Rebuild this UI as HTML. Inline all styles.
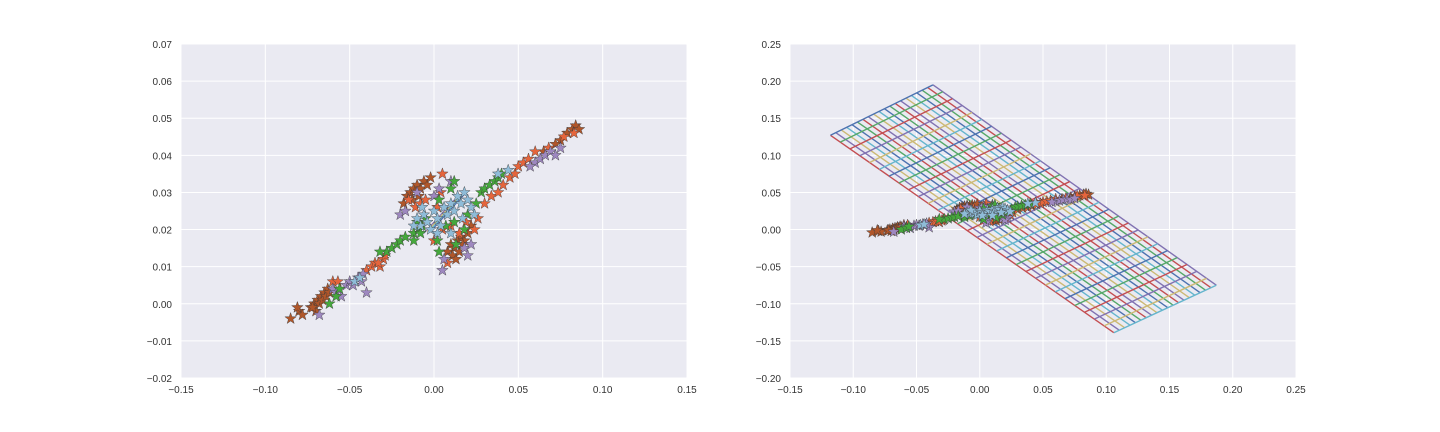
<!DOCTYPE html>
<html><head><meta charset="utf-8"><style>
body{margin:0;background:#fff;}
svg{display:block;font-family:"Liberation Sans",sans-serif;}
</style></head><body>
<svg id="fig" width="1440" height="432" xmlns="http://www.w3.org/2000/svg"></svg>
<script>
// ---- data ----
const xTicksL=[-0.15,-0.10,-0.05,0.00,0.05,0.10,0.15];
const yTicksL=[-0.02,-0.01,0.00,0.01,0.02,0.03,0.04,0.05,0.06,0.07];
const xTicksR=[-0.15,-0.10,-0.05,0.00,0.05,0.10,0.15,0.20,0.25];
const yTicksR=[-0.20,-0.15,-0.10,-0.05,0.00,0.05,0.10,0.15,0.20,0.25];
const brownPts=[[-0.085,-0.004],[-0.080,-0.002],[-0.078,-0.003],[-0.081,-0.001],[-0.073,-0.001],[-0.071,0.000],[-0.070,-0.002],[-0.069,0.001],[-0.068,0.000],[-0.067,0.002],[-0.066,0.001],[-0.065,0.003],[-0.064,0.002],[-0.063,0.004],[-0.062,0.003],[-0.072,-0.001],
[-0.018,0.027],[-0.016,0.029],[-0.014,0.030],[-0.012,0.031],[-0.010,0.032],[-0.008,0.031],[-0.006,0.033],[-0.004,0.032],[-0.002,0.034],[-0.013,0.028],[-0.009,0.029],
[0.008,0.014],[0.010,0.016],[0.012,0.015],[0.014,0.017],[0.016,0.018],[0.018,0.017],[0.020,0.019],[0.011,0.013],[0.013,0.012],[0.015,0.014],[0.022,0.021],[0.017,0.016],
[0.082,0.047],[0.084,0.048],[0.086,0.047],[0.079,0.046],[0.075,0.044],[0.072,0.043],[0.065,0.041]];
const orangePts=[[-0.060,0.006],[-0.057,0.006],[-0.040,0.009],[-0.037,0.010],[-0.035,0.011],[-0.032,0.010],[-0.030,0.012],[-0.029,0.013],[0.000,0.017],[0.005,0.035],[-0.015,0.028],[-0.011,0.026],[-0.008,0.027],[-0.005,0.028],[0.002,0.026],[0.004,0.030],[0.010,0.021],[0.015,0.019],[0.019,0.022],[0.024,0.020],[0.026,0.023],[0.005,0.020],[0.008,0.011],[0.030,0.027],[0.034,0.029],[0.038,0.030],[0.041,0.032],[0.045,0.034],[0.048,0.035],[0.050,0.037],[0.053,0.038],[0.056,0.039],[0.060,0.041],[0.068,0.042],[0.077,0.045],[0.083,0.046],[-0.033,0.011]];
const purplePts=[[-0.068,-0.003],[-0.060,0.004],[-0.058,0.003],[-0.055,0.002],[-0.052,0.005],[-0.050,0.006],[-0.048,0.005],[-0.045,0.007],[-0.043,0.006],[-0.040,0.003],[-0.042,0.008],[-0.020,0.024],[-0.017,0.025],[-0.010,0.030],[0.000,0.029],[0.010,0.033],[0.006,0.012],[0.018,0.015],[0.022,0.016],[0.020,0.013],[0.005,0.009],[0.060,0.038],[0.063,0.039],[0.066,0.040],[0.069,0.041],[0.072,0.040],[0.075,0.042],[0.057,0.037],[0.003,0.031]];
const greenPts=[[-0.062,0.000],[-0.058,0.002],[-0.056,0.004],[-0.028,0.014],[-0.025,0.015],[-0.022,0.016],[-0.020,0.017],[-0.017,0.018],[-0.012,0.019],[-0.009,0.020],[-0.007,0.021],[-0.010,0.022],[-0.005,0.023],[0.003,0.028],[0.010,0.031],[0.012,0.033],[-0.008,0.019],[0.002,0.017],[0.007,0.021],[0.012,0.022],[0.018,0.020],[0.020,0.024],[0.025,0.027],[0.028,0.030],[0.030,0.031],[0.033,0.032],[0.036,0.033],[0.038,0.034],[0.040,0.035],[-0.032,0.014],[0.003,0.014],[-0.012,0.017],[0.013,0.016]];
const bluePts=[[-0.010,0.023],[-0.008,0.021],[-0.006,0.024],[-0.004,0.022],[-0.002,0.020],[0.000,0.025],[0.002,0.023],[0.004,0.021],[0.006,0.026],[0.008,0.024],[0.010,0.027],[0.012,0.025],[0.014,0.029],[0.016,0.027],[0.018,0.030],[0.020,0.028],[0.022,0.026],[0.024,0.024],[-0.007,0.026],[0.010,0.019],[0.002,0.019],[0.017,0.023],[-0.012,0.021],[-0.047,0.006],[-0.044,0.007],[0.044,0.036],[0.038,0.035]];
const planeCorners=[[-0.118,0.127],[-0.037,0.195],[0.187,-0.075],[0.106,-0.139]]; // A,B,C,D
const planeLongCount=20;
const planeCrossCount=30;

// ---- setup ----
const NS="http://www.w3.org/2000/svg";
const svg=document.getElementById('fig');
function mk(tag,attrs,parent){const e=document.createElementNS(NS,tag);for(const k in attrs)e.setAttribute(k,attrs[k]);(parent||svg).appendChild(e);return e;}
const palette=['#4C72B0','#55A868','#C44E52','#8172B2','#CCB974','#64B5CD'];
function starPath(cx,cy,r){let d='';for(let i=0;i<10;i++){const rr=i%2?r*0.4:r;const a=-Math.PI/2+i*Math.PI/5;d+=(i?'L':'M')+(cx+rr*Math.cos(a)).toFixed(1)+','+(cy+rr*Math.sin(a)).toFixed(1);}return d+'Z';}

function makeAxes(name,left,top,w,h,xmin,xmax,ymin,ymax,xt,yt){
  const g=mk('g',{});
  
  
  const bg=mk('rect',{x:left,y:top,width:w,height:h,fill:'#EAEAF2'},g);
  
  
  const sx=v=>left+(v-xmin)/(xmax-xmin)*w;
  const sy=v=>top+(ymax-v)/(ymax-ymin)*h;
  xt.forEach(v=>{
    const gl=mk('line',{x1:sx(v),x2:sx(v),y1:top,y2:top+h,stroke:'#fff','stroke-width':1},g);
    
    
    const t=mk('text',{x:sx(v),y:top+h+15,'text-anchor':'middle','font-size':10,fill:'#333'},g);
    
    
    t.textContent=v.toFixed(2).replace('-','\u2212');
  });
  yt.forEach(v=>{
    const gl=mk('line',{x1:left,x2:left+w,y1:sy(v),y2:sy(v),stroke:'#fff','stroke-width':1},g);
    
    
    const t=mk('text',{x:left-9,y:sy(v)+4,'text-anchor':'end','font-size':10,fill:'#333'},g);
    
    
    t.textContent=v.toFixed(2).replace('-','\u2212');
  });
  const clip=mk('clipPath',{id:name+'-clip'},svg);
  mk('rect',{x:left,y:top,width:w,height:h},clip);
  const plot=mk('g',{'clip-path':'url(#'+name+'-clip)'},g);
  
  
  return {sx,sy,plot};
}

const seriesList=[[brownPts,'#B0562A','brown'],[orangePts,'#E5653C','orange'],[purplePts,'#9E88C0','purple'],[greenPts,'#45A83C','green'],[bluePts,'#8FBCD8','lightblue']];
function drawStars(ax){
  seriesList.forEach(([pts,col,nm])=>{
    pts.forEach(p=>{
      const s=mk('path',{d:starPath(ax.sx(p[0]),ax.sy(p[1]),6),fill:col,stroke:'#3a3a3a','stroke-width':0.5,'stroke-opacity':0.8},ax.plot);
      
      
    });
  });
}

// left
const L=makeAxes('left-axes',181,44,506,334,-0.15,0.15,-0.02,0.07,xTicksL,yTicksL);
for(let i=0;i<4;i++){
  const ln=mk('line',{x1:L.sx(-0.006+i*0.002),y1:L.sy(0.019+i*0.0005),x2:L.sx(0.012+i*0.002),y2:L.sy(0.028+i*0.0005),stroke:palette[(i+3)%6],'stroke-width':1.2},L.plot);
  
  
}
drawStars(L);

// right
const R=makeAxes('right-axes',790,44,506,334,-0.15,0.25,-0.20,0.25,xTicksR,yTicksR);
const [A,B,C,D]=planeCorners;
const lerp=(p,q,t)=>[p[0]+(q[0]-p[0])*t,p[1]+(q[1]-p[1])*t];
for(let i=0;i<planeLongCount;i++){
  const t=i/(planeLongCount-1);
  const p=lerp(A,B,t),q=lerp(D,C,t);
  const ln=mk('line',{x1:R.sx(p[0]),y1:R.sy(p[1]),x2:R.sx(q[0]),y2:R.sy(q[1]),stroke:palette[(i+2)%6],'stroke-width':1.4},R.plot);
  
  
}
for(let i=0;i<planeCrossCount;i++){
  const t=i/(planeCrossCount-1);
  const p=lerp(A,D,t),q=lerp(B,C,t);
  const ln=mk('line',{x1:R.sx(p[0]),y1:R.sy(p[1]),x2:R.sx(q[0]),y2:R.sy(q[1]),stroke:palette[i%6],'stroke-width':1.4},R.plot);
  
  
}
drawStars(R);
</script>
</body></html>
